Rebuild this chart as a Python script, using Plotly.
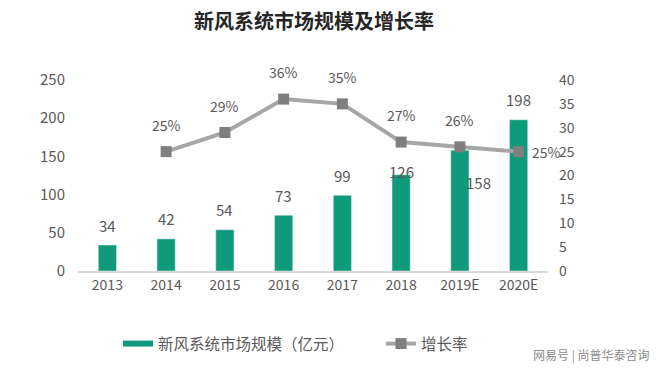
import plotly.graph_objects as go

years = ["2013", "2014", "2015", "2016", "2017", "2018", "2019E", "2020E"]
market_size = [34, 42, 54, 73, 99, 126, 158, 198]
growth_years = ["2014", "2015", "2016", "2017", "2018", "2019E", "2020E"]
growth_rate = [25, 29, 36, 35, 27, 26, 25]
left_ticks = [0, 50, 100, 150, 200, 250]
right_ticks = [0, 5, 10, 15, 20, 25, 30, 35, 40]

FONT = "Noto Sans CJK SC"
TXT = "#595959"
BAR_C = "#0f9b7b"

fig = go.Figure()
fig.add_trace(go.Bar(
    x=years, y=market_size, name="新风系统市场规模（亿元）",
    marker_color=BAR_C, showlegend=False,
))
# legend entry drawn as a wide bar swatch, like the reference
fig.add_trace(go.Scatter(
    x=[None], y=[None], name="新风系统市场规模（亿元）", mode="lines",
    line=dict(color=BAR_C, width=6), legend="legend",
))
fig.add_trace(go.Scatter(
    x=growth_years, y=growth_rate, name="增长率", yaxis="y2",
    mode="lines+markers", legend="legend2",
    line=dict(color="#a6a6a6", width=4),
    marker=dict(symbol="square", size=11, color="#7f7f7f"),
))

ann = []
for x, v in zip(years, market_size):
    xs, ys = 0, 20
    if x == "2018":
        ys = 3
    if x == "2019E":
        xs, ys = 19, -32
    ann.append(dict(x=years.index(x), y=v, xref="x", yref="y", text=str(v), showarrow=False,
                    xshift=xs, yshift=ys, font=dict(size=15, color=TXT, family=FONT)))
for x, v in zip(growth_years, growth_rate):
    xs, ys = 0, 27
    if x == "2020E":
        xs, ys = 28, 0
    ann.append(dict(x=years.index(x), y=v, xref="x", yref="y2", text=f"{v}%", showarrow=False,
                    xshift=xs, yshift=ys, font=dict(size=14, color=TXT, family=FONT)))
ann.append(dict(x=(652 - 78) / 470, y=-(355 - 271) / 191, xref="paper", yref="paper",
                xanchor="right", yanchor="middle",
                text="网易号 | 尚普华泰咨询", showarrow=False,
                font=dict(size=12, color="#8c8c8c", family=FONT)))

legend_common = dict(orientation="h", xanchor="left", y=-(344 - 271) / 191,
                     yanchor="middle", font=dict(size=15.5, color=TXT, family=FONT),
                     bgcolor="rgba(0,0,0,0)")

fig.update_layout(
    width=660, height=373,
    margin=dict(l=78, r=112, t=80, b=102),
    paper_bgcolor="white", plot_bgcolor="white",
    title=dict(text="<b>新风系统市场规模及增长率</b>", x=314 / 660, xanchor="center",
               y=1 - 22 / 373, yanchor="middle",
               font=dict(family=FONT, size=20, color="#262626")),
    font=dict(family=FONT, color=TXT),
    bargap=0.69,
    showlegend=True,
    legend=dict(x=(118 - 78) / 470, **legend_common),
    legend2=dict(x=(381 - 78) / 470, **legend_common),
    xaxis=dict(type="category", range=[-0.5, 7.5], showgrid=False, showline=True,
               linecolor="#d9d9d9", linewidth=1.5, ticks="",
               tickfont=dict(size=14, color=TXT)),
    yaxis=dict(range=[0, 250], tickvals=left_ticks, showgrid=False, zeroline=False,
               showline=False, tickfont=dict(size=15, color=TXT), ticklabelstandoff=12),
    yaxis2=dict(range=[0, 40], tickvals=right_ticks, ticksuffix="%", overlaying="y",
                side="right", showgrid=False, zeroline=False, showline=False,
                tickfont=dict(size=14, color=TXT), ticklabelstandoff=10),
    annotations=ann,
)

fig.write_html("out.html", config={"displayModeBar": False},
               post_script="document.body.style.margin='0';")
